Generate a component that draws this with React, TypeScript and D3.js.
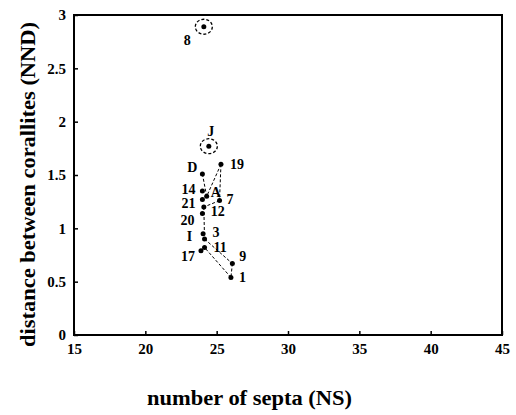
import React, { useEffect, useRef } from 'react';
import * as d3 from 'd3';

// colony samples: number of septa vs distance between corallites
const labels = ['8', 'J', '19', 'D', '14', 'A', '7', '21', '12', '20', 'I', '3', '11', '17', '9', '1'];
const nsValues = [24.1, 24.45, 25.3, 24.0, 24.0, 24.3, 25.2, 24.0, 24.1, 24.0, 24.05, 24.15, 24.15, 23.9, 26.1, 26.0];
const nndValues = [2.89, 1.77, 1.6, 1.51, 1.35, 1.3, 1.26, 1.27, 1.2, 1.14, 0.95, 0.9, 0.82, 0.79, 0.67, 0.54];

// samples that are circled
const circled = ['8', 'J'];

// dashed links between samples
const links = [
  ['D', 'A'], ['19', 'A'], ['19', '7'], ['7', '12'], ['12', '3'],
  ['3', '9'], ['9', '1'], ['1', '11'], ['11', '17'],
];

const xTicks = [15, 20, 25, 30, 35, 40, 45];
const yTicks = [0, 0.5, 1, 1.5, 2, 2.5, 3];

// where each label sits relative to its point
const labelOffset: Record<string, [number, number, string]> = {
  '8': [-20, 13, 'start'],
  J: [2, -15, 'middle'],
  '19': [9, 0, 'start'],
  D: [-5, -7, 'end'],
  '14': [-7, -2, 'end'],
  A: [4, -4, 'start'],
  '7': [7, -2, 'start'],
  '21': [-7, 4, 'end'],
  '12': [7, 4, 'start'],
  '20': [-8, 7, 'end'],
  I: [-11, 2, 'end'],
  '3': [8, -7, 'start'],
  '11': [9, 0, 'start'],
  '17': [-6, 5, 'end'],
  '9': [7, -7, 'start'],
  '1': [8, 0, 'start'],
};

export default function App() {
  const svgRef = useRef<SVGSVGElement>(null);

  useEffect(() => {
    const W = 516, H = 415;
    const margin = { top: 15, right: 14, bottom: 80, left: 74 };
    const width = W - margin.left - margin.right;
    const height = H - margin.top - margin.bottom;

    const svg = d3.select(svgRef.current);
    svg.selectAll('*').remove();
    svg.attr('width', W).attr('height', H);

    const g = svg.append('g').attr('transform', `translate(${margin.left},${margin.top})`);
    const font = '"Liberation Serif", "DejaVu Serif", serif';

    const x = d3.scaleLinear().domain([15, 45]).range([0, width]);
    const y = d3.scaleLinear().domain([0, 3]).range([height, 0]);

    // frame
    g.append('rect')
      .attr('width', width).attr('height', height)
      .attr('fill', 'none').attr('stroke', '#000').attr('stroke-width', 2);

    // Axes (ticks pointing inward)
    const xAxisG = g.append('g')
      .attr('transform', `translate(0,${height})`)
      .call(d3.axisBottom(x).tickValues(xTicks).tickSize(-4).tickPadding(8).tickFormat(d3.format('d')));
    const yAxisG = g.append('g')
      .call(d3.axisLeft(y).tickValues(yTicks).tickSize(-4).tickPadding(8).tickFormat(d => String(d)));

    [xAxisG, yAxisG].forEach(a => {
      a.select('.domain').remove();
      a.selectAll('line').attr('stroke', '#000').attr('stroke-width', 1.5);
      a.selectAll('text')
        .attr('font-family', font).attr('font-weight', 'bold')
        .attr('font-size', '15px').attr('fill', '#000');
    });

    const pts = labels.map((l, i) => ({ label: l, ns: nsValues[i], nnd: nndValues[i] }));
    const byLabel = new Map(pts.map(p => [p.label, p]));

    // dashed links
    g.selectAll('.link')
      .data(links)
      .enter()
      .append('line')
      .attr('class', 'link')
      .attr('x1', d => x(byLabel.get(d[0])!.ns))
      .attr('y1', d => y(byLabel.get(d[0])!.nnd))
      .attr('x2', d => x(byLabel.get(d[1])!.ns))
      .attr('y2', d => y(byLabel.get(d[1])!.nnd))
      .attr('stroke', '#000')
      .attr('stroke-width', 1)
      .attr('stroke-dasharray', '3,2');

    // dashed circles
    g.selectAll('.ring')
      .data(pts.filter(p => circled.includes(p.label)))
      .enter()
      .append('ellipse')
      .attr('cx', d => x(d.ns))
      .attr('cy', d => y(d.nnd))
      .attr('rx', 8.5).attr('ry', 7.5)
      .attr('fill', 'none')
      .attr('stroke', '#000')
      .attr('stroke-width', 1.3)
      .attr('stroke-dasharray', '3,2');

    // points
    g.selectAll('.dot')
      .data(pts)
      .enter()
      .append('circle')
      .attr('cx', d => x(d.ns))
      .attr('cy', d => y(d.nnd))
      .attr('r', 2.5)
      .attr('fill', '#000');

    // point labels
    g.selectAll('.lbl')
      .data(pts)
      .enter()
      .append('text')
      .attr('x', d => x(d.ns) + labelOffset[d.label][0])
      .attr('y', d => y(d.nnd) + labelOffset[d.label][1])
      .attr('dy', '0.35em')
      .attr('text-anchor', d => labelOffset[d.label][2])
      .attr('font-family', font)
      .attr('font-weight', 'bold')
      .attr('font-size', '14px')
      .attr('fill', '#000')
      .text(d => d.label);

    // Axis titles
    svg.append('text')
      .attr('x', 147)
      .attr('y', 405)
      .attr('textLength', 205)
      .attr('lengthAdjust', 'spacingAndGlyphs')
      .attr('font-family', font)
      .attr('font-weight', 'bold')
      .attr('font-size', '20px')
      .attr('fill', '#000')
      .text('number of septa (NS)');

    svg.append('text')
      .attr('transform', `translate(35,347) rotate(-90)`)
      .attr('textLength', 325)
      .attr('lengthAdjust', 'spacingAndGlyphs')
      .attr('font-family', font)
      .attr('font-weight', 'bold')
      .attr('font-size', '20px')
      .attr('fill', '#000')
      .text('distance between corallites (NND)');
  }, []);

  return (
    <div style={{ position: 'absolute', left: 0, top: 0, background: '#fff' }}>
      <svg ref={svgRef}></svg>
    </div>
  );
}
